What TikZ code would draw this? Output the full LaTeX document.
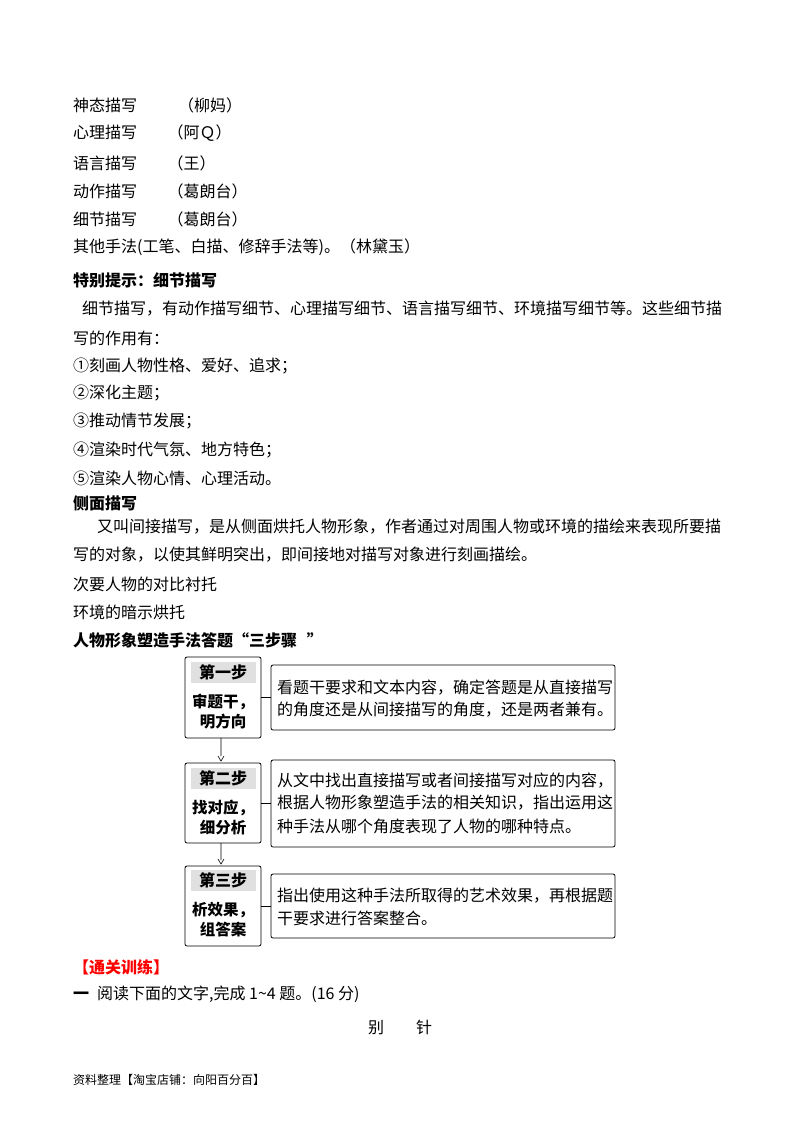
\documentclass[tikz,border=0pt]{standalone}
\usepackage{fontspec}
\setmainfont{Noto Sans CJK SC}
\begin{document}
\begin{tikzpicture}[x=1pt,y=-1pt,
  tx/.style={anchor=west,inner sep=0pt,font=\fontsize{16}{19}\selectfont},
  bx/.style={anchor=west,inner sep=0pt,font=\fontsize{16}{19}\selectfont\bfseries},
  lbox/.style={draw,rounded corners=2pt,line width=0.8pt},
  gray/.style={fill=black!12}]
\useasboundingbox (0,0) rectangle (800,1132);
\node[tx] (l1) at (73,105) {神态描写\hspace{2.55em}（柳妈）};
\node[tx] (l2) at (73,133) {心理描写\hspace{1.9em}（阿Ｑ）};
\node[tx] (l3) at (73,163) {语言描写\hspace{1.9em}（王）};
\node[tx] (l4) at (73,191) {动作描写\hspace{1.9em}（葛朗台）};
\node[tx] (l5) at (73,219) {细节描写\hspace{1.9em}（葛朗台）};
\node[tx] (l6) at (73,247) {其他手法(工笔、白描、修辞手法等)。（林黛玉）};
\node[bx] (h1) at (73,280) {特别提示：细节描写};
\node[tx] (p1) at (82,309) {细节描写，有动作描写细节、心理描写细节、语言描写细节、环境描写细节等。这些细节描};
\node[tx] (p2) at (73,338) {写的作用有：};
\node[tx] (p3) at (73,366) {①刻画人物性格、爱好、追求；};
\node[tx] (p4) at (73,393) {②深化主题；};
\node[tx] (p5) at (73,421) {③推动情节发展；};
\node[tx] (p6) at (73,450) {④渲染时代气氛、地方特色；};
\node[tx] (p7) at (73,478) {⑤渲染人物心情、心理活动。};
\node[bx] (h2) at (73,503) {侧面描写};
\node[tx] (q1) at (97,527) {又叫间接描写，是从侧面烘托人物形象，作者通过对周围人物或环境的描绘来表现所要描};
\node[tx] (q2) at (73,555) {写的对象，以使其鲜明突出，即间接地对描写对象进行刻画描绘。};
\node[tx] (q3) at (73,584) {次要人物的对比衬托};
\node[tx] (q4) at (73,612) {环境的暗示烘托};
\node[bx] (h3) at (73,640) {人物形象塑造手法答题“三步骤\hspace{0.6em}”};
% diagram
\draw[lbox] (185,657) rectangle (261,738);
\fill[gray] (191,662) rectangle (256,683);
\node[bx,anchor=center] (s1) at (223,672) {第一步};
\node[bx,anchor=center,align=center,font=\fontsize{15.5}{20}\selectfont\bfseries] (s1b) at (223,712) {审题干，\\明方向};
\draw[lbox] (271,665) rectangle (615,730);
\node[tx] (r1a) at (277,688) {看题干要求和文本内容，确定答题是从直接描写};
\node[tx] (r1b) at (277,710) {的角度还是从间接描写的角度，还是两者兼有。};
\draw (261,697) -- (271,697);
\draw[lbox] (185,763) rectangle (261,843);
\fill[gray] (191,768) rectangle (256,789);
\node[bx,anchor=center] (s2) at (223,778) {第二步};
\node[bx,anchor=center,align=center,font=\fontsize{15.5}{20}\selectfont\bfseries] (s2b) at (223,818) {找对应，\\细分析};
\draw[lbox] (271,760) rectangle (615,847);
\node[tx] (r2a) at (277,781) {从文中找出直接描写或者间接描写对应的内容，};
\node[tx] (r2b) at (277,803) {根据人物形象塑造手法的相关知识，指出运用这};
\node[tx] (r2c) at (277,826) {种手法从哪个角度表现了人物的哪种特点。};
\draw (261,803) -- (271,803);
\draw[lbox] (185,866) rectangle (261,946);
\fill[gray] (191,870) rectangle (256,891);
\node[bx,anchor=center] (s3) at (223,880) {第三步};
\node[bx,anchor=center,align=center,font=\fontsize{15.5}{20}\selectfont\bfseries] (s3b) at (223,920) {析效果，\\组答案};
\draw[lbox] (271,874) rectangle (615,938);
\node[tx] (r3a) at (277,896) {指出使用这种手法所取得的艺术效果，再根据题};
\node[tx] (r3b) at (277,918) {干要求进行答案整合。};
\draw (261,906) -- (271,906);
\coordinate (a1) at (221,738);
\coordinate (a3) at (221,843);
\draw[line width=0.6pt] (a1) -- ++(0,18) (218,756) -- (221,761) -- (224,756);
\draw[line width=0.6pt] (a3) -- ++(0,17) (218,859) -- (221,864) -- (224,859);
\node[bx,text=red] (t1) at (73,967) {【通关训练】};
\node[tx] (t2) at (73,994) {\textbf{一}\hspace{0.5em}阅读下面的文字,完成 1\textasciitilde4 题。(16 分)};
\node[tx,anchor=center] (t3) at (400,1027) {别\hspace{2em}针};
\node[tx,font=\fontsize{12}{14}\selectfont] (ft) at (73,1080) {资料整理【淘宝店铺：向阳百分百】};
\end{tikzpicture}
\end{document}
